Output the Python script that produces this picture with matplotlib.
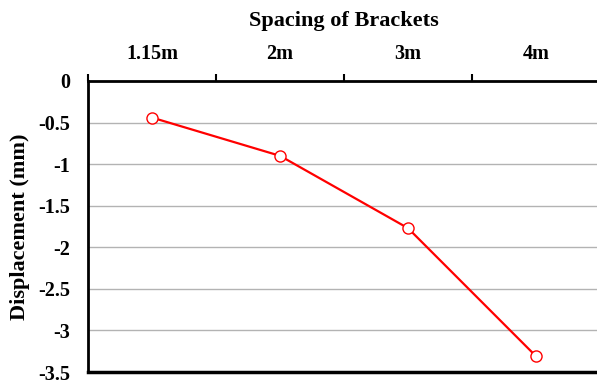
import matplotlib
matplotlib.use("Agg")
import matplotlib.pyplot as plt
import numpy as np

categories = ["1.15m", "2m", "3m", "4m"]
displacement = [-0.44, -0.90, -1.77, -3.31]
yticks = [0, -0.5, -1, -1.5, -2, -2.5, -3, -3.5]
ytick_labels = ["0", "-0.5", "-1", "-1.5", "-2", "-2.5", "-3", "-3.5"]

plt.rcParams['font.family'] = ['Liberation Serif', 'DejaVu Serif']

fig = plt.figure(figsize=(5.97, 3.84), dpi=100)
ax = fig.add_axes([88/597, 1-372/384, 512/597, (372-81)/384])

x = np.arange(len(categories))
ax.plot(x, displacement, color='#ff0000', lw=1.6, marker='o', ms=8,
        mfc='white', mec='#ff0000', mew=1.0, zorder=3, clip_on=False)

ax.set_xlim(-0.5, len(categories)-0.5)
ax.set_ylim(-3.5, 0)

ax.xaxis.tick_top()
ax.xaxis.set_label_position('top')
ax.set_xticks(x)
ax.set_xticklabels(categories, fontsize=14.5, fontweight='bold')
ax.set_xticks(np.arange(-0.5, len(categories), 1.0), minor=True)
ax.tick_params(axis='x', which='major', length=0, pad=12)
ax.tick_params(axis='x', which='minor', length=5, width=1.5, color='black', direction='out', top=True, bottom=False)
ax.set_xlabel("Spacing of Brackets", fontsize=16, fontweight='bold', labelpad=13)

ax.set_yticks(yticks)
ax.set_yticklabels(ytick_labels, fontsize=14.5, fontweight='bold')
ax.tick_params(axis='y', length=0, pad=13)
ax.set_ylabel("Displacement (mm)", fontsize=16, fontweight='bold', labelpad=6)

for v in yticks[1:-1]:
    ax.axhline(v, color='#b3b3b3', lw=1.0, zorder=1)

ax.spines['right'].set_visible(False)
ax.spines['top'].set_linewidth(2)
ax.spines['left'].set_linewidth(2)
ax.spines['bottom'].set_linewidth(2.5)
for s in ax.spines.values():
    s.set_color('black')

fig.savefig("out.png", dpi=100)
